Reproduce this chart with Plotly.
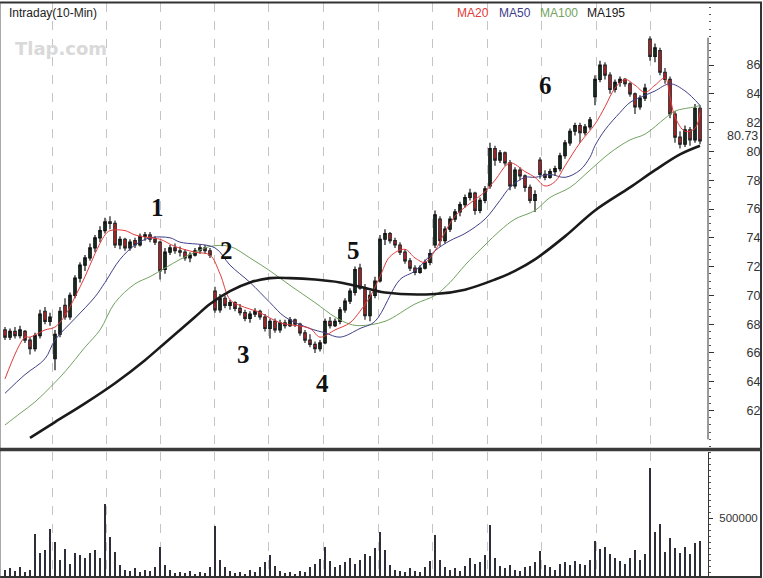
import plotly.graph_objects as go

# ---------------- data (bar index = 10-min bar) ----------------
bars = list(range(140))

opens = [67.6,67.1,67.5,67.2,67.5,66.9,66.3,67.2,68.9,68.2,
         65.6,67.3,69.3,68.5,70.0,71.2,72.1,72.6,73.3,74.0,
         74.5,75.1,75.0,73.5,73.9,73.3,73.8,73.5,74.1,74.2,
         73.9,73.7,71.8,73.0,73.3,73.1,73.0,72.6,72.8,73.1,
         73.3,73.1,70.3,69.0,69.8,69.3,69.5,69.1,68.8,68.4,
         68.7,68.9,68.5,67.7,68.2,67.6,68.1,67.9,68.3,68.0,
         67.4,66.9,66.6,66.3,66.7,68.2,67.9,68.2,69.0,69.6,
         70.2,71.9,70.5,68.6,70.0,71.0,73.9,74.3,73.8,73.5,
         73.0,72.4,71.9,71.6,71.9,72.3,73.5,75.3,73.8,74.6,
         75.3,75.8,76.3,76.8,77.1,75.9,76.6,77.6,80.2,79.4,
         79.9,79.2,77.6,78.7,78.3,77.5,76.6,79.4,78.4,78.2,
         78.6,78.8,79.7,80.6,81.4,81.8,81.3,81.7,83.8,85.0,
         86.0,85.3,84.3,84.8,85.0,84.7,84.0,83.1,83.7,87.8,
         86.6,87.0,85.5,85.0,82.6,81.0,80.5,81.5,80.8,83.0]
highs = [67.8,67.7,67.8,67.9,67.6,67.1,67.4,69.0,69.2,68.8,
         67.6,69.2,69.8,70.2,71.4,72.3,72.8,73.6,74.2,74.8,
         75.4,75.5,75.2,74.1,74.0,73.9,74.0,74.3,74.4,74.4,
         74.1,73.8,73.3,73.5,73.6,73.4,73.2,73.0,73.3,73.5,
         73.5,73.3,70.6,70.1,70.0,69.7,69.6,69.4,69.0,68.9,
         69.1,69.0,68.7,68.4,68.4,68.3,68.3,68.5,68.4,68.1,
         67.6,67.3,66.8,66.9,68.4,68.5,68.4,69.2,69.8,70.5,
         72.0,72.2,70.8,70.3,71.3,74.2,74.6,74.4,74.0,73.7,
         73.2,72.6,72.1,72.1,72.5,73.2,75.9,75.5,74.8,75.5,
         76.0,76.5,77.0,77.4,77.2,76.8,77.6,80.6,80.4,80.1,
         80.0,79.4,78.9,78.9,78.4,77.7,77.3,79.6,78.7,78.8,
         79.0,79.9,80.8,81.6,82.0,82.0,81.9,82.4,85.3,86.3,
         86.2,85.5,85.0,85.2,85.1,84.8,84.1,83.9,84.7,88.0,
         87.5,87.2,85.8,85.2,82.8,81.4,81.8,81.7,83.3,83.2]
lows = [66.9,66.9,67.0,67.0,66.7,65.9,66.1,67.0,68.0,67.9,
        64.8,67.1,68.3,68.3,69.8,70.9,71.7,72.4,73.0,73.7,
        74.3,74.6,73.3,73.2,73.1,73.1,73.3,73.4,73.8,73.7,
        73.5,71.1,71.5,72.8,72.9,72.7,72.4,72.3,72.7,72.9,
        72.9,72.6,68.8,68.8,69.1,69.0,68.9,68.6,68.2,68.1,
        68.5,68.3,67.5,67.0,67.4,67.4,67.7,67.8,67.8,67.2,
        66.7,66.4,66.0,66.1,66.6,67.7,67.8,68.0,68.8,69.4,
        70.0,70.4,68.3,68.2,69.8,70.9,73.5,73.6,73.3,72.8,
        72.2,71.7,71.4,71.5,71.8,72.1,73.3,73.4,73.6,74.4,
        75.1,75.5,76.1,76.6,75.6,75.7,76.4,77.4,79.0,79.2,
        79.0,77.3,77.4,78.0,77.2,76.4,75.8,78.1,78.0,78.1,
        78.3,78.6,79.5,80.4,81.1,80.6,81.1,81.5,83.2,84.8,
        85.0,84.0,84.1,84.5,84.5,83.8,82.6,82.9,83.5,86.3,
        86.2,85.3,84.7,82.3,80.6,80.2,80.3,80.4,80.6,80.5]
closes = [67.1,67.5,67.2,67.6,66.9,66.3,67.2,68.7,68.2,68.5,
          67.3,68.9,68.5,70.0,71.2,72.1,72.6,73.3,74.0,74.5,
          75.1,75.0,73.5,73.9,73.3,73.7,73.5,74.1,74.2,73.9,
          73.7,71.7,73.0,73.3,73.1,73.0,72.6,72.8,73.1,73.3,
          73.1,72.8,69.0,69.8,69.3,69.5,69.1,68.8,68.4,68.7,
          68.9,68.5,67.7,68.2,67.6,68.1,67.9,68.3,68.0,67.4,
          66.9,66.6,66.3,66.7,68.2,67.9,68.2,69.0,69.6,70.3,
          71.8,70.5,68.6,70.0,71.0,73.9,74.3,73.8,73.5,73.0,
          72.4,71.9,71.6,71.9,72.3,72.9,75.6,73.8,74.6,75.3,
          75.8,76.3,76.8,77.1,75.9,76.6,77.4,80.2,79.4,79.9,
          79.2,77.6,78.7,78.3,77.5,76.6,77.0,78.4,78.2,78.6,
          78.8,79.7,80.6,81.4,81.8,81.3,81.7,82.2,85.0,86.0,
          85.3,84.3,84.8,85.0,84.7,84.0,83.1,83.7,84.4,86.6,
          87.2,85.5,85.0,82.6,81.0,80.5,81.5,80.8,83.0,80.73]
volume = [70,80,60,90,50,70,370,210,230,410,
          300,150,240,120,210,190,170,210,230,170,
          620,340,220,110,70,60,80,50,70,60,
          90,260,110,70,40,50,40,60,30,50,
          40,90,430,150,90,60,40,50,30,70,
          50,90,130,190,100,60,40,50,30,60,
          50,90,120,160,260,140,90,110,130,170,
          120,150,200,180,250,385,230,110,70,60,
          50,80,60,50,90,140,355,150,90,70,
          80,60,100,170,120,130,190,445,170,100,
          80,110,70,60,90,100,130,225,110,90,
          70,120,130,110,140,120,110,150,305,240,
          260,200,170,140,120,170,230,150,200,920,
          380,450,220,330,250,210,260,200,290,310]
volume = [v * 1000 for v in volume]

# moving averages (bar index, price)
ma20_x = [0,4,5,8,10,12,14,16,18,20,21,24,26,29,31,34,38,41,43,45,47,51,55,61,63,66,69,71,73,75,77,80,82,84,86,88,90,93,96,98,101,104,106,108,110,112,115,118,120,122,124,126,128,130,132,133,134,136,138,139]
ma20_y = [64.2,67.1,67.1,67.6,67.8,68.6,69.9,71.3,72.9,74.2,74.5,74.5,74.2,74.0,73.9,73.4,73.0,72.8,71.5,69.7,69.3,68.8,68.1,67.7,67.1,67.6,68.1,68.9,69.9,71.3,72.7,73.2,72.6,72.3,73.1,74.4,75.5,76.4,77.2,78.0,79.2,78.6,78.2,77.6,77.9,79.0,80.6,81.9,83.1,84.4,85.0,84.6,84.1,84.6,85.1,83.8,82.4,81.4,81.6,82.7]
ma50_x = [0,4,8,10,14,18,20,23,26,29,33,35,42,45,49,53,56,61,64,67,71,74,79,82,86,89,92,96,99,101,104,106,109,112,115,117,118,120,123,125,128,130,133,136,139]
ma50_y = [63.2,64.5,65.6,66.9,68.4,69.9,70.9,72.5,73.5,74.0,74.0,73.7,73.3,72.1,70.9,69.5,68.5,67.7,67.4,67.1,67.7,68.2,71.1,71.7,73.1,73.8,74.3,75.3,76.6,77.5,78.2,78.2,78.4,78.2,78.7,79.6,80.4,81.5,82.7,83.4,83.9,84.2,84.7,84.2,83.2]
ma100_x = [0,3,6,9,12,16,19,22,26,29,32,35,38,41,45,49,53,57,62,66,69,71,76,82,86,89,92,96,99,102,106,109,113,117,121,125,128,132,134,138,139]
ma100_y = [61.0,61.8,62.6,63.6,64.7,66.4,67.6,69.5,70.8,71.3,71.9,72.5,73.0,73.4,73.4,72.6,71.7,70.7,69.5,68.5,68.0,67.9,68.2,69.4,70.0,70.9,72.1,73.5,74.5,75.3,75.9,76.8,77.5,78.7,79.9,80.8,81.2,82.3,82.8,83.1,83.2]
ma195_x = [5,10,16,22,28,32,35,38,41,45,49,53,57,62,67,71,76,86,92,98,102,106,112,118,125,130,135,139]
ma195_y = [60.1,61.2,62.5,63.9,65.5,66.7,67.6,68.5,69.4,70.3,70.9,71.2,71.2,71.1,70.9,70.6,70.2,70.1,70.4,71.1,71.7,72.5,74.1,75.9,77.5,78.7,79.8,80.4]

grid_bars = [9.4,20.2,31,41.8,52.6,63.6,74.6,85.4,96.4,107.2,118.2,129]
price_ticks = [62,64,66,68,70,72,74,76,78,80,82,84,86]
last_price = 80.73
wave_labels = ["1","2","3","4","5","6"]
wave_x = [30.4,44.2,47.6,63.4,69.6,108]
wave_y = [76.1,73.15,65.9,63.9,73.15,84.6]
ma_names = ["MA20","MA50","MA100","MA195"]
ma_colors = ["#e23a3a","#40408a","#72a260","#1a1a1a"]

# ---------------- figure ----------------
W, H = 763, 578
PW = 708  # plot area width in px

def px(x):
    return x / PW

def py(y):
    return 1 - y / H

fig = go.Figure()

fig.add_trace(go.Candlestick(
    x=bars, open=opens, high=highs, low=lows, close=closes,
    increasing=dict(fillcolor="#1c3a2a", line=dict(color="#111111", width=1.2)),
    decreasing=dict(fillcolor="#e0262c", line=dict(color="#222222", width=1.2)),
    whiskerwidth=0, showlegend=False, xaxis="x", yaxis="y"))

fig.add_trace(go.Scatter(x=ma100_x, y=ma100_y, mode="lines", line=dict(color=ma_colors[2], width=1, shape="spline"),
                         showlegend=False, xaxis="x", yaxis="y"))
fig.add_trace(go.Scatter(x=ma50_x, y=ma50_y, mode="lines", line=dict(color=ma_colors[1], width=1, shape="spline"),
                         showlegend=False, xaxis="x", yaxis="y"))
fig.add_trace(go.Scatter(x=ma20_x, y=ma20_y, mode="lines", line=dict(color=ma_colors[0], width=1, shape="spline"),
                         showlegend=False, xaxis="x", yaxis="y"))
fig.add_trace(go.Scatter(x=ma195_x, y=ma195_y, mode="lines", line=dict(color=ma_colors[3], width=2.6, shape="spline"),
                         showlegend=False, xaxis="x", yaxis="y"))

fig.add_trace(go.Bar(x=bars, y=volume, marker=dict(color="#2e2e3a", line=dict(width=0)),
                     width=0.5, showlegend=False, xaxis="x2", yaxis="y2"))

xcommon = dict(range=[-1, 140.6], tickvals=grid_bars, showticklabels=False, ticks="",
               showgrid=True, gridcolor="#c4c4c4", griddash="dash", gridwidth=1,
               zeroline=False, showline=False, fixedrange=True)

fig.update_layout(
    width=W, height=H,
    margin=dict(l=0, r=W - PW, t=0, b=0),
    paper_bgcolor="white", plot_bgcolor="white",
    font=dict(family="Liberation Sans, Arial, sans-serif", color="#333333"),
    xaxis=dict(domain=[0, 1], anchor="y", rangeslider=dict(visible=False), **xcommon),
    xaxis2=dict(domain=[0, 1], anchor="y2", **xcommon),
    yaxis=dict(domain=[py(448), py(3)], range=[59.40, 90.31], side="right", anchor="x",
               tickvals=price_ticks, ticks="outside", ticklen=5, tickcolor="#333",
               ticklabelstandoff=30, tickfont=dict(size=12.5, color="#333"),
               minor=dict(dtick=0.5, ticks="outside", ticklen=2, tickcolor="#555"),
               showgrid=False, zeroline=False, showline=False),
    yaxis2=dict(domain=[0, py(452)], range=[0, 1050000], side="right", anchor="x2",
                tickvals=[500000], ticktext=["500000"], ticks="outside", ticklen=4, tickcolor="#333",
                ticklabelstandoff=4, tickfont=dict(size=11.5, color="#333"),
                minor=dict(dtick=50000, ticks="outside", ticklen=2, tickcolor="#555"),
                showgrid=False, zeroline=False, showline=True, linecolor="#333", linewidth=1),
    bargap=0,
)

shapes = [
    # price axis line
    dict(type="line", xref="paper", yref="y", x0=1, x1=1, y0=60.0, y1=87.9, line=dict(color="#333", width=1)),
    # frame
    dict(type="line", xref="paper", yref="paper", x0=0, x1=px(762), y0=py(2.5), y1=py(2.5), line=dict(color="#333", width=2)),
    dict(type="line", xref="paper", yref="paper", x0=px(761), x1=px(761), y0=0, y1=py(2.5), line=dict(color="#333", width=2)),
    dict(type="line", xref="paper", yref="paper", x0=0, x1=px(762), y0=py(577), y1=py(577), line=dict(color="#333", width=2)),
    dict(type="line", xref="paper", yref="paper", x0=0, x1=0, y0=0, y1=py(2.5), line=dict(color="#555", width=1)),
    # panel separator
    dict(type="line", xref="paper", yref="paper", x0=0, x1=px(762), y0=py(449.5), y1=py(449.5), line=dict(color="#3a3a3a", width=3.5)),
]
fig.update_layout(shapes=shapes)

ann = []
ann.append(dict(text="Intraday(10-Min)", xref="paper", yref="paper", x=px(7), y=py(13),
                xanchor="left", yanchor="middle", showarrow=False, font=dict(size=12, color="#222")))
leg_x = [455, 497, 538, 585]
for name, col, lx in zip(ma_names, ma_colors, leg_x):
    ann.append(dict(text=name, xref="paper", yref="paper", x=px(lx), y=py(13), xanchor="left", yanchor="middle",
                    showarrow=False, font=dict(size=12, color=col)))
ann.append(dict(text="<b>Tlap.com</b>", xref="paper", yref="paper", x=px(13), y=py(49), xanchor="left", yanchor="middle",
                showarrow=False, font=dict(size=18, color="#d9d9d9", family="DejaVu Sans, sans-serif")))
ann.append(dict(text=f"{last_price:.2f}", xref="paper", yref="y", x=px(758.5), y=80.50, xanchor="right", yanchor="bottom",
                showarrow=False, font=dict(size=12.5, color="#333"), borderpad=0))
for t, wx, wy in zip(wave_labels, wave_x, wave_y):
    ann.append(dict(text=f"<b>{t}</b>", xref="x", yref="y", x=wx, y=wy, showarrow=False,
                    font=dict(size=25, color="#111", family="Liberation Serif, Times New Roman, serif")))
fig.update_layout(annotations=ann)

fig.write_html("out.html")
